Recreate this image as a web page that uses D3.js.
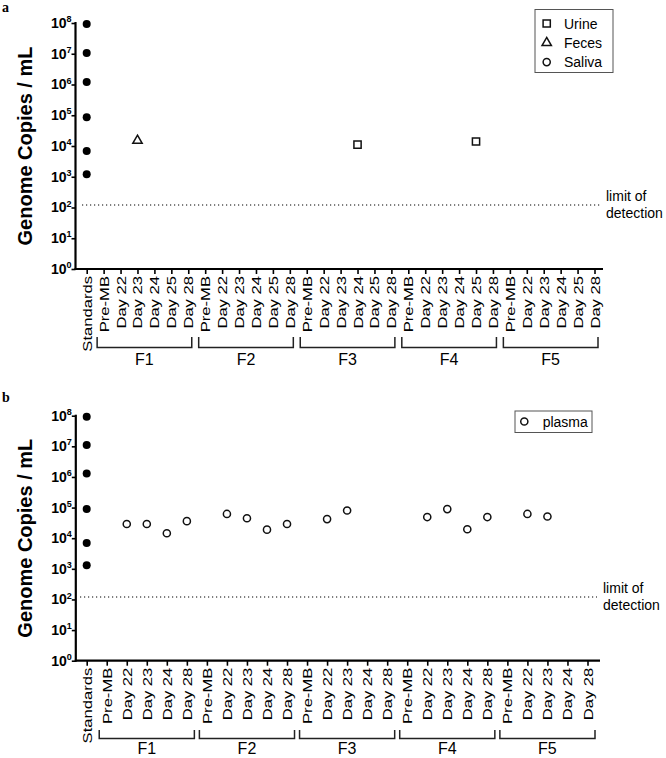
<!DOCTYPE html>
<html><head><meta charset="utf-8">
<script src="https://cdn.jsdelivr.net/npm/d3@7"></script>
<style>body{margin:0;background:#fff}svg{display:block}</style>
</head><body>
<script>
// ---- data ----
const groups = ["F1","F2","F3","F4","F5"];
const daysA = ["Pre-MB","Day 22","Day 23","Day 24","Day 25","Day 28"];
const daysB = ["Pre-MB","Day 22","Day 23","Day 24","Day 28"];
const yTicks = [1,10,100,1e3,1e4,1e5,1e6,1e7,1e8];
const lod = 120;
const standardsA = [9.3e7,1.05e7,1.2e6,8.6e4,6.9e3,1.2e3];
const standardsB = [9.3e7,1.1e7,1.3e6,9e4,7e3,1.3e3];
const urine = [{g:"F3",d:"Day 24",v:1.1e4},{g:"F4",d:"Day 25",v:1.4e4}];
const feces = [{g:"F1",d:"Day 23",v:1.5e4}];
const saliva = [];
const plasma = [
 {g:"F1",d:"Day 22",v:2.9e4},{g:"F1",d:"Day 23",v:2.9e4},{g:"F1",d:"Day 24",v:1.45e4},{g:"F1",d:"Day 28",v:3.6e4},
 {g:"F2",d:"Day 22",v:6.2e4},{g:"F2",d:"Day 23",v:4.5e4},{g:"F2",d:"Day 24",v:1.9e4},{g:"F2",d:"Day 28",v:2.9e4},
 {g:"F3",d:"Day 22",v:4.2e4},{g:"F3",d:"Day 23",v:8e4},
 {g:"F4",d:"Day 22",v:4.9e4},{g:"F4",d:"Day 23",v:8.9e4},{g:"F4",d:"Day 24",v:1.96e4},{g:"F4",d:"Day 28",v:4.9e4},
 {g:"F5",d:"Day 22",v:6.2e4},{g:"F5",d:"Day 23",v:5.1e4}
];
const legendA = ["Urine","Feces","Saliva"];
const legendB = ["plasma"];

const svg = d3.select("body").append("svg").attr("width",666).attr("height",758);
const FONT = "Liberation Sans, Arial, sans-serif";

function panel(cfg){
  const g = svg.append("g");
  const keys = ["Standards"];
  groups.forEach(gr=>cfg.days.forEach(d=>keys.push(gr+"|"+d)));
  const x = d3.scalePoint().domain(keys).range(cfg.xr);
  const y = d3.scaleLog().domain([1,1e8]).range(cfg.yr);

  // panel letter
  g.append("text").attr("x",2).attr("y",cfg.letterY).text(cfg.letter)
   .attr("font-family","Liberation Serif, Times New Roman, serif").attr("font-weight","bold").attr("font-size",14);

  // y axis
  const ya = g.append("g").attr("transform",`translate(${cfg.ax0},0)`)
    .call(d3.axisLeft(y).tickValues(yTicks).tickSize(4).tickFormat(""));
  ya.select(".domain").remove();
  ya.selectAll(".tick line").attr("stroke","#000").attr("stroke-width",1.6);
  ya.selectAll(".tick").each(function(d){
    const t = d3.select(this).append("text").attr("x",-4).attr("dy","0.32em")
      .attr("text-anchor","end").attr("font-family",FONT).attr("font-weight","bold").attr("font-size",14).attr("fill","#000");
    t.append("tspan").text("10");
    t.append("tspan").attr("font-size",9).attr("dy","-0.65em").text(String(Math.round(Math.log10(d))));
  });
  g.append("line").attr("x1",cfg.ax0).attr("x2",cfg.ax0).attr("y1",y(1e8)-1).attr("y2",y(1)+1)
    .attr("stroke","#000").attr("stroke-width",2.2);

  // x axis
  const xa = g.append("g").attr("transform",`translate(0,${y(1)})`)
    .call(d3.axisBottom(x).tickSize(5).tickFormat(""));
  xa.select(".domain").remove();
  xa.selectAll(".tick line").attr("stroke","#000").attr("stroke-width",1.6);
  xa.selectAll(".tick").append("text")
    .attr("transform","translate(0,7) rotate(-90) scale(1.33,1)")
    .attr("dy","0.36em").attr("text-anchor","end")
    .attr("font-family",FONT).attr("font-size",12.5).attr("fill","#000")
    .text(d=>d.includes("|")?d.split("|")[1]:d);
  g.append("line").attr("x1",cfg.ax0-1).attr("x2",cfg.axEnd).attr("y1",y(1)).attr("y2",y(1))
    .attr("stroke","#000").attr("stroke-width",2.2);

  // group brackets
  groups.forEach(gr=>{
    const x1 = x(gr+"|"+cfg.days[0]) - cfg.bl, x2 = x(gr+"|"+cfg.days[cfg.days.length-1]) + cfg.br;
    g.append("path").attr("d",`M${x1},${cfg.brTop}V${cfg.brY}H${x2}V${cfg.brTop}`)
      .attr("fill","none").attr("stroke","#222").attr("stroke-width",1.5);
    g.append("text").attr("x",(x1+x2)/2).attr("y",cfg.fY).attr("text-anchor","middle")
      .attr("font-family",FONT).attr("font-size",16).text(gr);
  });

  // limit of detection
  g.append("line").attr("x1",cfg.lodX[0]).attr("x2",cfg.lodX[1]).attr("y1",y(lod)).attr("y2",y(lod))
    .attr("stroke","#000").attr("stroke-width",1.1).attr("stroke-dasharray","1.2,2.8");
  const lt = g.append("text").attr("font-family",FONT).attr("font-size",14).attr("fill","#000");
  lt.append("tspan").attr("x",cfg.lodTx).attr("y",y(lod)-4).text("limit of");
  lt.append("tspan").attr("x",cfg.lodTx).attr("y",y(lod)+12.5).text("detection");

  // y title
  g.append("text").attr("transform",`translate(${cfg.titleX},${(y(1)+y(1e8))/2}) rotate(-90)`)
    .attr("text-anchor","middle").attr("font-family",FONT).attr("font-weight","bold").attr("font-size",20)
    .text("Genome Copies / mL");

  // standards
  g.selectAll(".std").data(cfg.standards).enter().append("circle")
    .attr("cx",x("Standards")).attr("cy",d=>y(d)).attr("r",4).attr("fill","#000");

  return {g,x,y};
}

const sym = {
  square: d3.symbol().type(d3.symbolSquare).size(52),
  triangle: d3.symbol().type(d3.symbolTriangle).size(38),
  circle: d3.symbol().type(d3.symbolCircle).size(40)
};
function drawPts(p, data, s){
  p.g.selectAll(null).data(data).enter().append("path")
    .attr("d",s).attr("transform",d=>`translate(${p.x(d.g+"|"+d.d)},${p.y(d.v)})`)
    .attr("fill","none").attr("stroke","#111").attr("stroke-width",1.5);
}

// panel a
const A = panel({letter:"a",letterY:12,days:daysA,xr:[86.7,594.5],yr:[269,23],ax0:75.5,axEnd:603,
  bl:6.5,br:3.5,brTop:337,brY:347.5,fY:365,lodX:[82,602],lodTx:606,titleX:32,standards:standardsA});
drawPts(A, urine, sym.square);
drawPts(A, feces, sym.triangle);
drawPts(A, saliva, sym.circle);
// legend a
{
  const lg = A.g.append("g");
  lg.append("rect").attr("x",535).attr("y",9.5).attr("width",78).attr("height",63)
    .attr("fill","#fff").attr("stroke","#555").attr("stroke-width",1);
  const shapes=[sym.square,sym.triangle,sym.circle];
  legendA.forEach((t,i)=>{
    const cy = 23.5 + i*19.3;
    lg.append("path").attr("d",shapes[i]).attr("transform",`translate(546.7,${cy})`)
      .attr("fill","none").attr("stroke","#111").attr("stroke-width",1.5);
    lg.append("text").attr("x",564).attr("y",cy+5).attr("font-family",FONT).attr("font-size",14).text(t);
  });
}

// panel b
const B = panel({letter:"b",letterY:402,days:daysB,xr:[86.7,587.5],yr:[660.7,415.7],ax0:75.8,axEnd:600,
  bl:7.5,br:7.5,brTop:730,brY:738.5,fY:754,lodX:[80,597],lodTx:603,titleX:32,standards:standardsB});
drawPts(B, plasma, sym.circle);
{
  const lg = B.g.append("g");
  lg.append("rect").attr("x",515).attr("y",411).attr("width",77).attr("height",21.5)
    .attr("fill","#fff").attr("stroke","#555").attr("stroke-width",1);
  legendB.forEach((t,i)=>{
    lg.append("path").attr("d",sym.circle).attr("transform",`translate(524.3,421.5)`)
      .attr("fill","none").attr("stroke","#111").attr("stroke-width",1.5);
    lg.append("text").attr("x",542.7).attr("y",426.5).attr("font-family",FONT).attr("font-size",14).text(t);
  });
}
</script>
</body></html>
